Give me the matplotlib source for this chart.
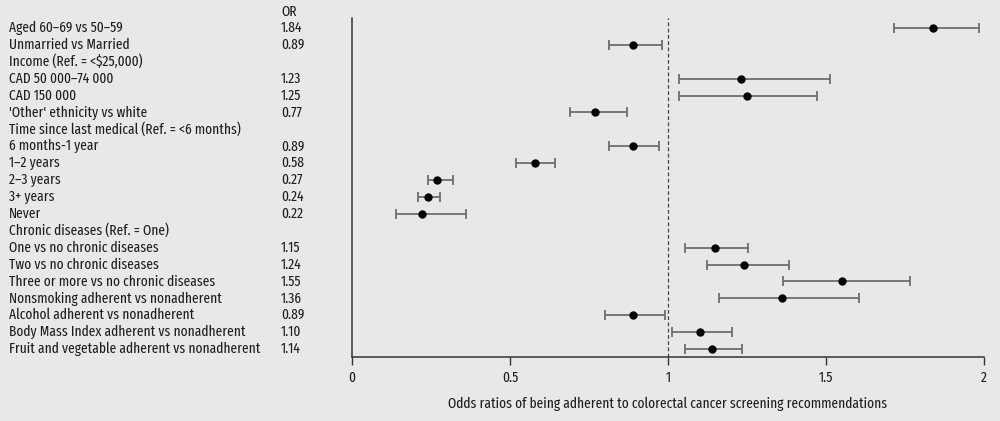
import numpy as np
import matplotlib
matplotlib.use("Agg")
import matplotlib.pyplot as plt

# データ
labels = [
    "Aged 60–69 vs 50–59",
    "Unmarried vs Married",
    "Income (Ref. = <$25,000)",
    "CAD 50 000–74 000",
    "CAD 150 000",
    "'Other' ethnicity vs white",
    "Time since last medical (Ref. = <6 months)",
    "6 months-1 year",
    "1–2 years",
    "2–3 years",
    "3+ years",
    "Never",
    "Chronic diseases (Ref. = One)",
    "One vs no chronic diseases",
    "Two vs no chronic diseases",
    "Three or more vs no chronic diseases",
    "Nonsmoking adherent vs nonadherent",
    "Alcohol adherent vs nonadherent",
    "Body Mass Index adherent vs nonadherent",
    "Fruit and vegetable adherent vs nonadherent",
]
odds = [1.84, 0.89, None, 1.23, 1.25, 0.77, None, 0.89, 0.58, 0.27, 0.24, 0.22,
        None, 1.15, 1.24, 1.55, 1.36, 0.89, 1.10, 1.14]
ci_low = [1.716, 0.812, None, 1.034, 1.034, 0.691, None, 0.812, 0.520, 0.240, 0.208, 0.139,
          None, 1.053, 1.122, 1.363, 1.161, 0.801, 1.014, 1.053]
ci_high = [1.984, 0.982, None, 1.513, 1.472, 0.871, None, 0.972, 0.641, 0.321, 0.280, 0.360,
           None, 1.252, 1.384, 1.766, 1.604, 0.991, 1.202, 1.233]
or_text = ["1.84", "0.89", "", "1.23", "1.25", "0.77", "", "0.89", "0.58", "0.27", "0.24", "0.22",
           "", "1.15", "1.24", "1.55", "1.36", "0.89", "1.10", "1.14"]
xticks = [0, 0.5, 1, 1.5, 2]
xticklabels = ["0", "0.5", "1", "1.5", "2"]

plt.rcParams['font.family'] = ["Fira Sans Extra Condensed", "PT Sans Narrow", "DejaVu Sans"]

bg = "#e7e8e8"
tc = "#1e1e1e"
fs = 10.5

fig = plt.figure(figsize=(10, 4.21), dpi=100, facecolor=bg)
# 軸: x 352..984 px, y 18..357 px
ax = fig.add_axes([0.352, 1 - 357 / 421, 0.632, (357 - 18) / 421], facecolor=bg)

rows = np.arange(len(labels))
for i in rows:
    if odds[i] is None:
        continue
    ax.errorbar(odds[i], i, xerr=[[odds[i] - ci_low[i]], [ci_high[i] - odds[i]]],
                fmt='none', ecolor="#6e6e6e", elinewidth=1.3, capsize=3.5, capthick=1.3, zorder=2)
    ax.plot(odds[i], i, 'o', color="black", markersize=5, zorder=3)

ax.axvline(1, color="#444444", lw=0.9, ls=(0, (3, 2)), zorder=1)

ax.set_xlim(0, 2)
ax.set_ylim(19.47, -0.59)
ax.set_yticks([])
ax.set_xticks(xticks)
ax.set_xticklabels(xticklabels, fontsize=fs, color=tc)
ax.tick_params(axis='x', length=5.5, width=1, color="#333333", pad=4.5)
for s in ["top", "right"]:
    ax.spines[s].set_visible(False)
for s in ["left", "bottom"]:
    ax.spines[s].set_color("#333333")
    ax.spines[s].set_linewidth(1.1)
ax.set_xlabel("Odds ratios of being adherent to colorectal cancer screening recommendations",
              fontsize=fs, color=tc, labelpad=8)

# 左のラベル
for i in rows:
    y = fig.transFigure.inverted().transform(ax.transData.transform((0, i)))[1]
    fig.text(0.009, y, labels[i], fontsize=fs, color=tc, va='center', ha='left')
    fig.text(0.281, y, or_text[i], fontsize=fs, color=tc, va='center', ha='left')
fig.text(0.281, 1 - 12 / 421, "OR", fontsize=fs, color=tc, va='center', ha='left')

fig.savefig("out.png", dpi=100, facecolor=bg)
